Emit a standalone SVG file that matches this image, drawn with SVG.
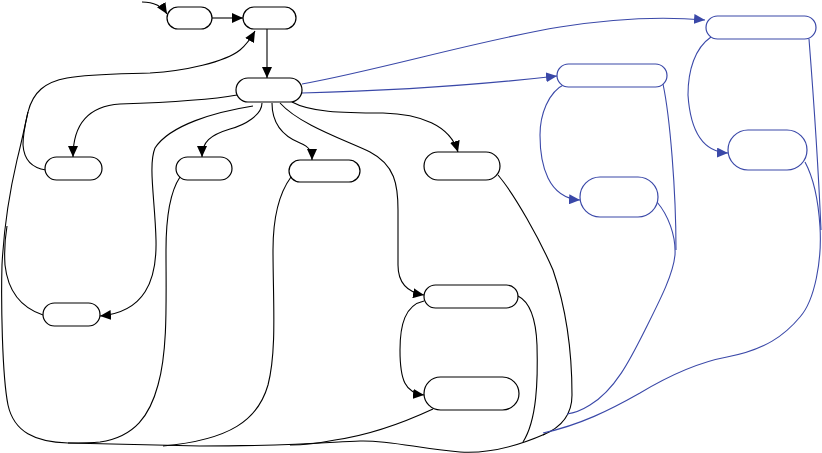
<svg xmlns="http://www.w3.org/2000/svg" width="822" height="453" viewBox="0 0 822 453">
<style>
.n{fill:#fff;stroke:#000;stroke-width:1.2}
.nb{fill:#fff;stroke:#3a48a8;stroke-width:1.2}
.e{fill:none;stroke:#000;stroke-width:1.1}
.eb{fill:none;stroke:#3a48a8;stroke-width:1.1}
</style>
<defs>
<marker id="a" markerUnits="userSpaceOnUse" markerWidth="12" markerHeight="10" refX="11" refY="5" orient="auto"><path d="M0,0 L11,5 L0,10 z" fill="#000"/></marker>
<marker id="ab" markerUnits="userSpaceOnUse" markerWidth="12" markerHeight="10" refX="11" refY="5" orient="auto"><path d="M0,0 L11,5 L0,10 z" fill="#3a48a8"/></marker>
</defs>
<rect width="822" height="453" fill="#fff"/>
<g id="connectors">
<path class="e" d="M142,2 C155,2 162,6 167,14" marker-end="url(#a)"/>
<path class="e" d="M212,18 L243,18" marker-end="url(#a)"/>
<path class="e" d="M267,29 L267,78" marker-end="url(#a)"/>
<path class="e" d="M237,95 C210,100 150,103 120,104 C90,106 73,122 73,157" marker-end="url(#a)"/>
<path class="e" d="M262,103 C262,115 245,125 230,129 C210,135 202,142 202,157" marker-end="url(#a)"/>
<path class="e" d="M272,103 C272,125 285,137 300,143 C310,147 312,152 312,160" marker-end="url(#a)"/>
<path class="e" d="M292,102 C310,112 340,113 383,113 C420,114 450,125 458,152" marker-end="url(#a)"/>
<path class="e" d="M253,106 C215,112 170,125 155,148 C148,165 155,200 156,240 C157,280 145,312 100,316" marker-end="url(#a)"/>
<path class="e" d="M280,103 C300,125 345,140 370,152 C395,165 398,185 398,210 L398,265 C398,280 405,292 424,295" marker-end="url(#a)"/>
<path class="e" d="M424,301 C405,305 400,325 400,350 C400,380 405,393 424,395" marker-end="url(#a)"/>
<path class="e" d="M545,434 C520,445 490,454 460,452 C420,449 390,440 360,441 C330,442 300,446 200,446 L68,443 C35,442 14,432 8,405 C2,375 1,300 2,265 C4,225 10,190 17,160 C22,140 25,125 28,112 C33,92 45,82 67,78 C90,74 120,74 150,73 C185,71 225,62 240,50 C246,45 251,38 255,31" marker-end="url(#a)"/>
<path class="e" d="M43,315 C22,308 8,292 5,265 C4,250 5,238 7,226"/>
<path class="e" d="M46,170 C32,168 24,160 23,145 C23,133 25,125 28,112"/>
<path class="e" d="M180,177 C170,192 166,215 166,250 C166,300 168,350 158,385 C150,415 135,437 100,442 C90,443 80,443 68,443"/>
<path class="e" d="M291,177 C280,192 273,215 273,250 C273,300 277,350 268,385 C258,420 230,440 163,446"/>
<path class="e" d="M433,409 C405,422 370,435 335,440 C320,443 305,445 290,445"/>
<path class="e" d="M518,296 C530,302 536,320 537,345 C538,380 537,420 523,442"/>
<path class="e" d="M498,175 C515,195 540,240 553,270 C565,305 572,345 572,395 C572,415 560,428 543,435"/>
<path class="eb" d="M302,84 C380,70 480,40 560,27 C610,19 660,16 705,20" marker-end="url(#ab)"/>
<path class="eb" d="M302,93 C380,91 470,86 557,76" marker-end="url(#ab)"/>
<path class="eb" d="M565,84 C548,92 540,115 540,135 C540,165 548,198 580,200" marker-end="url(#ab)"/>
<path class="eb" d="M711,37 C695,48 688,70 688,95 C690,125 700,152 728,153" marker-end="url(#ab)"/>
<path class="eb" d="M663,84 C670,117 676,190 676,250"/>
<path class="eb" d="M657,202 C668,215 676,235 675,255 C673,275 660,300 645,330 C630,360 615,390 590,405 C582,410 575,413 567,414"/>
<path class="eb" d="M809,39 C813,90 818,160 821,230"/>
<path class="eb" d="M805,162 C812,175 818,195 820,227 C822,260 815,300 800,317 C785,335 765,350 727,357 C700,362 670,375 640,393 C610,410 580,425 543,433"/>
</g>
<g id="n0"><rect class="n" x="167" y="7" width="45" height="22" rx="11"/></g>
<g id="n1"><rect class="n" x="243" y="7" width="53" height="22" rx="11"/></g>
<g id="n2"><rect class="n" x="236" y="78" width="66" height="24" rx="12"/></g>
<g id="n3"><rect class="n" x="45" y="157" width="57" height="23" rx="11.5"/></g>
<g id="n4"><rect class="n" x="176" y="157" width="56" height="23" rx="11.5"/></g>
<g id="n5"><rect class="n" x="289" y="160" width="71" height="22" rx="11"/></g>
<g id="n6"><rect class="n" x="424" y="152" width="76" height="28" rx="14"/></g>
<g id="n7"><rect class="n" x="43" y="303" width="57" height="23" rx="11.5"/></g>
<g id="n8"><rect class="n" x="424" y="285" width="94" height="23" rx="11.5"/></g>
<g id="n9"><rect class="n" x="424" y="377" width="95" height="33" rx="16.5"/></g>
<g id="b1"><rect class="nb" x="557" y="64" width="110" height="23" rx="11.5"/></g>
<g id="b2"><rect class="nb" x="580" y="177" width="78" height="40" rx="20"/></g>
<g id="b3"><rect class="nb" x="706" y="16" width="110" height="23" rx="11.5"/></g>
<g id="b4"><rect class="nb" x="728" y="130" width="79" height="40" rx="20"/></g>
</svg>
